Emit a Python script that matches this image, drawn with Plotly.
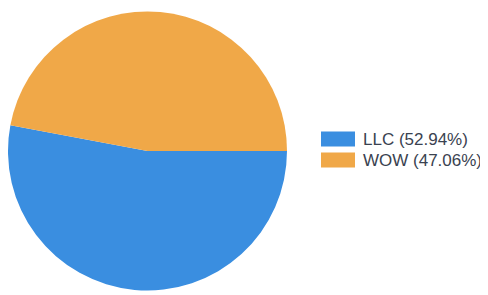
import plotly.graph_objects as go

labels = ["LLC", "WOW"]
values = [9, 8]
colors = ["#3A8EE0", "#F0A848"]

# page body has an 8px margin, so the figure is drawn 8px in from the window's top-left
OFF = 8
W, H = 488 - OFF, 295 - OFF
total = sum(values)
legend_text = [f"{l} ({v / total * 100:.2f}%)" for l, v in zip(labels, values)]

cx, cy, r = 147.5 - OFF, 151 - OFF, 139.5
fig = go.Figure(go.Pie(
    labels=labels, values=values,
    marker=dict(colors=colors, line=dict(width=0)),
    sort=False, direction="clockwise", rotation=90,
    textinfo="none", hoverinfo="label+percent",
    domain=dict(x=[max(0, (cx - r) / W), (cx + r) / W], y=[(H - cy - r) / H, (H - cy + r) / H]),
    showlegend=False,
))

shapes, annotations = [], []
row_y = [139 - OFF, 160 - OFF]
for i, (txt, col) in enumerate(zip(legend_text, colors)):
    yc = row_y[i]
    shapes.append(dict(type="rect", xref="paper", yref="paper",
                       x0=(321 - OFF) / W, x1=(355 - OFF) / W,
                       y0=(H - yc - 7.5) / H, y1=(H - yc + 7.5) / H,
                       fillcolor=col, line=dict(width=0)))
    annotations.append(dict(xref="paper", yref="paper", x=(361 - OFF) / W, y=(H - yc) / H,
                            xanchor="left", yanchor="middle", showarrow=False, text=txt,
                            font=dict(family="Liberation Sans, Arial, sans-serif", size=17, color="#3A4250")))

fig.update_layout(width=W, height=H, margin=dict(l=0, r=0, t=0, b=0),
                  paper_bgcolor="white", plot_bgcolor="white",
                  shapes=shapes, annotations=annotations)
fig.write_html("out.html")
